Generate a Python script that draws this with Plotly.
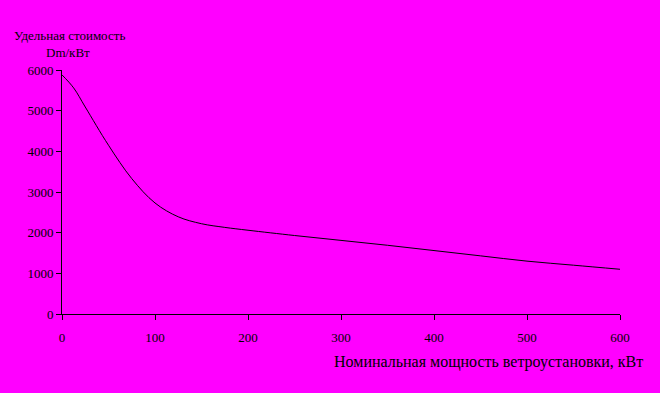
import plotly.graph_objects as go

power_kw = [0, 12.5, 25, 50, 75, 100, 125, 150, 175, 200, 250, 300, 350, 400, 450, 500, 550, 600]
cost_per_kw = [5880, 5560, 5090, 4150, 3330, 2730, 2390, 2220, 2130, 2060, 1930, 1810, 1690, 1560, 1430, 1300, 1200, 1100]

x_ticks = [0, 100, 200, 300, 400, 500, 600]
y_ticks = [0, 1000, 2000, 3000, 4000, 5000, 6000]

y_title_line1 = "Удельная стоимость"
y_title_line2 = "Dm/кВт"
x_title = "Номинальная мощность ветроустановки, кВт"

BG = "#FF00FF"
FONT = "Liberation Serif"

fig = go.Figure()
fig.add_trace(go.Scatter(
    x=power_kw, y=cost_per_kw, mode="lines",
    line=dict(color="black", width=1, shape="spline", smoothing=1.0),
    hoverinfo="skip", showlegend=False,
))

fig.update_layout(
    width=660, height=393,
    paper_bgcolor=BG, plot_bgcolor=BG,
    margin=dict(l=62, r=40, t=70, b=79),
    font=dict(family=FONT, size=13, color="black"),
    xaxis=dict(range=[0, 600], tickvals=x_ticks, showgrid=False, zeroline=False,
               showline=True, linecolor="black", linewidth=1,
               ticks="outside", ticklen=5, tickcolor="black", tickwidth=1,
               ticklabelstandoff=6,
               tickfont=dict(family=FONT, size=13), fixedrange=True),
    yaxis=dict(range=[0, 6000], tickvals=y_ticks, showgrid=False, zeroline=False,
               showline=True, linecolor="black", linewidth=1,
               ticks="outside", ticklen=5, tickcolor="black", tickwidth=1,
               tickfont=dict(family=FONT, size=13), fixedrange=True),
    annotations=[
        dict(text=y_title_line1, xref="paper", yref="paper", x=(12 - 62) / 558, y=1 + (70 - 35) / 244,
             xanchor="left", yanchor="middle", showarrow=False, font=dict(family=FONT, size=13)),
        dict(text=y_title_line2, xref="paper", yref="paper", x=(68 - 62) / 558, y=1 + (70 - 52) / 244,
             xanchor="center", yanchor="middle", showarrow=False, font=dict(family=FONT, size=13)),
        dict(text=x_title, xref="paper", yref="paper", x=(488 - 62) / 558, y=-(362 - 314) / 244,
             xanchor="center", yanchor="middle", showarrow=False, font=dict(family=FONT, size=16)),
    ],
)

fig.write_html("out.html")
